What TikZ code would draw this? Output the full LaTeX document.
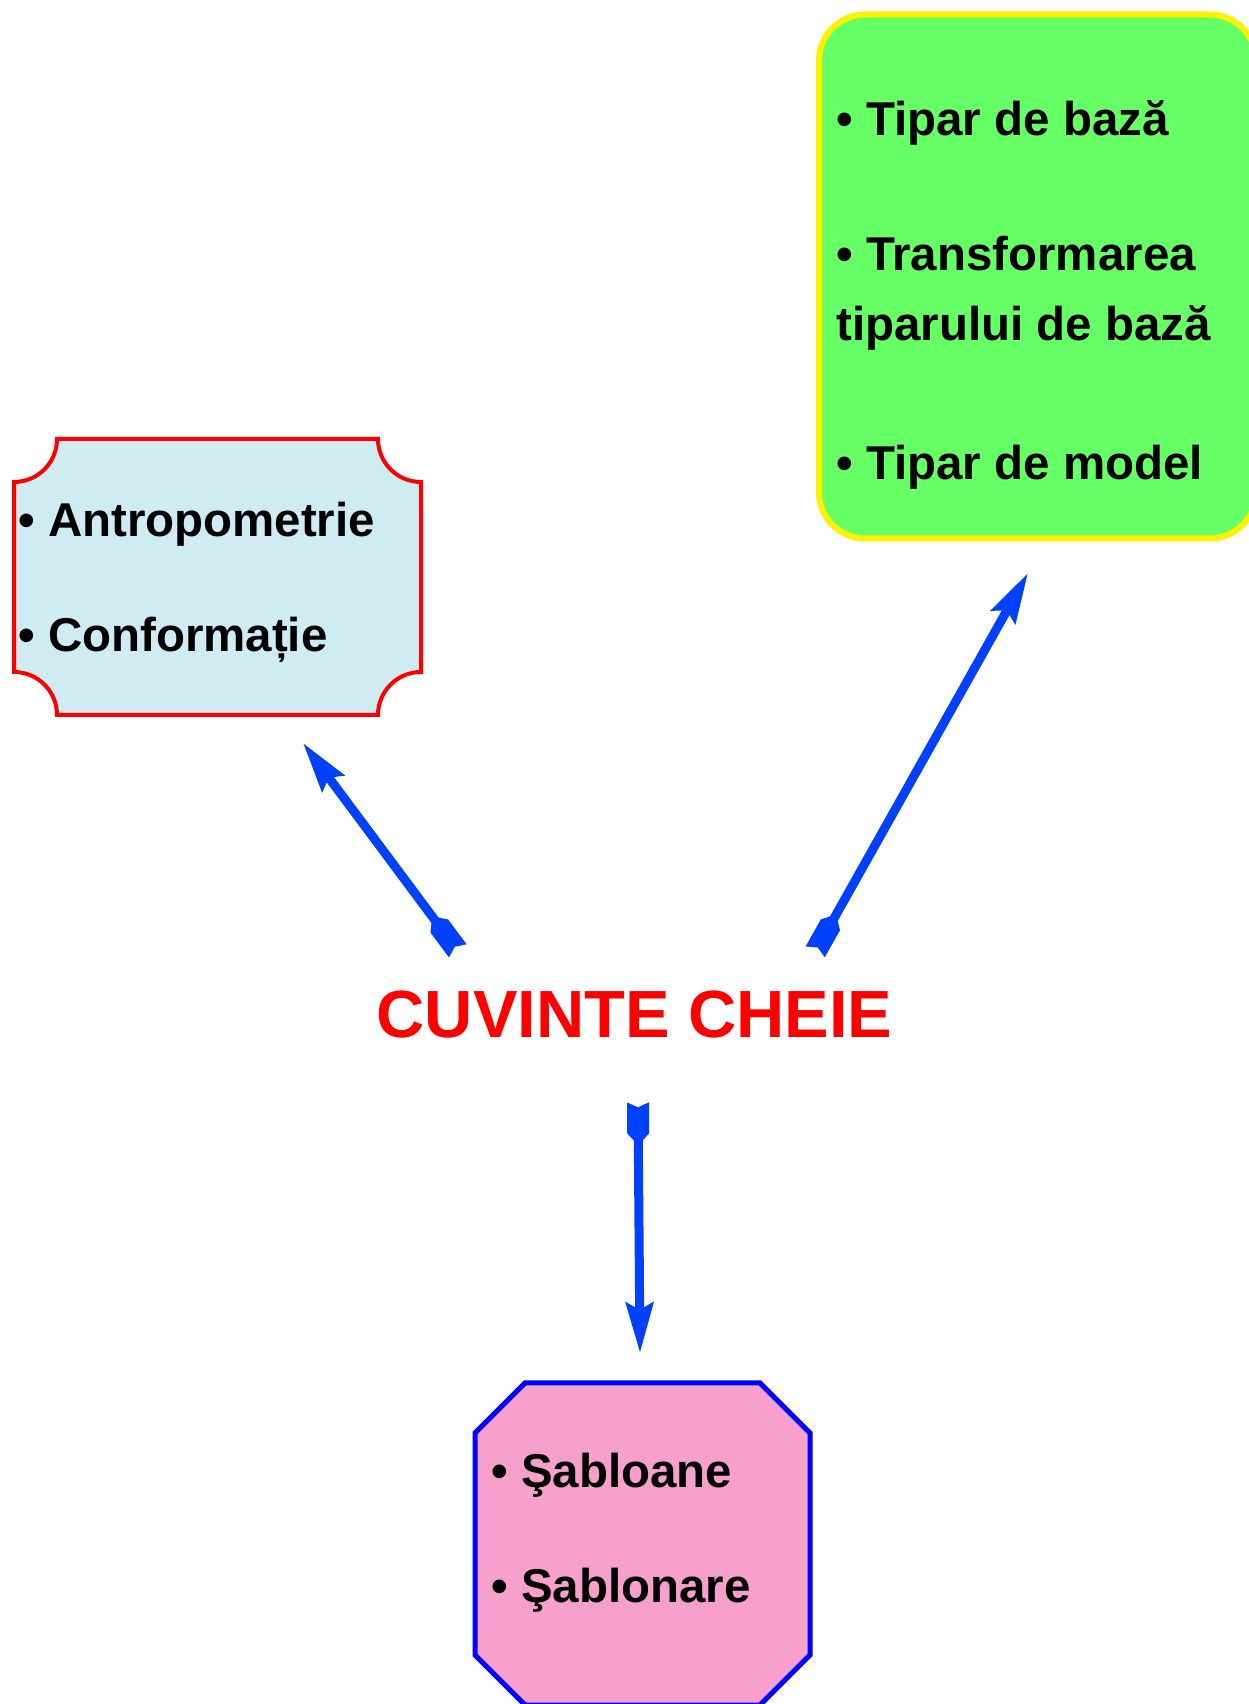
\documentclass[tikz,border=0pt]{standalone}
\usepackage{fontspec}
\setmainfont{Liberation Sans}
\usetikzlibrary{arrows.meta}

\definecolor{arrowblue}{RGB}{0,64,255}
\definecolor{lightcyan}{RGB}{207,236,242}
\definecolor{limegreen}{RGB}{102,255,102}
\definecolor{pinkfill}{RGB}{247,160,204}

% notched tail of the arrows
\pgfdeclarearrow{
  name = Nock,
  parameters = {\the\pgfarrowlength,\the\pgfarrowwidth,\the\pgfarrowinset},
  setup code = {
    \pgfarrowssettipend{0pt}
    \pgfarrowssetbackend{-\pgfarrowlength}
    \pgfarrowssetlineend{-0.6\pgfarrowlength}
    \pgfarrowssavethe\pgfarrowlength
    \pgfarrowssavethe\pgfarrowwidth
    \pgfarrowssavethe\pgfarrowinset
  },
  drawing code = {
    \pgfpathmoveto{\pgfqpoint{0pt}{0.5\pgfarrowwidth}}
    \pgfpathlineto{\pgfqpoint{-\pgfarrowinset}{0pt}}
    \pgfpathlineto{\pgfqpoint{0pt}{-0.5\pgfarrowwidth}}
    \pgfpathlineto{\pgfqpoint{-0.72\pgfarrowlength}{-0.5\pgfarrowwidth}}
    \pgfpathlineto{\pgfqpoint{-\pgfarrowlength}{0pt}}
    \pgfpathlineto{\pgfqpoint{-0.72\pgfarrowlength}{0.5\pgfarrowwidth}}
    \pgfpathclose
    \pgfusepathqfill
  },
  defaults = {length=0.86cm, width=0.44cm, inset=0.1cm}
}

\begin{document}
\begin{tikzpicture}[box/.style={inner sep=0pt,outer sep=0pt},
	item/.style={anchor=base west,inner sep=0pt,font=\bfseries\fontsize{27}{65.4}\selectfont},
	link/.style={draw=arrowblue,line width=0.18cm,{Nock}-{Stealth[length=1cm,width=0.54cm,inset=0.14cm]}}]
		\useasboundingbox (0,0) rectangle (24.98,34.08);
		
		\node[box,minimum width=8.14cm,minimum height=5.52cm] (anthro) at (4.35,22.54) {};
		\filldraw[fill=lightcyan,draw=red,line width=0.08cm]
		([xshift=0.86cm]anthro.north west) -- ([xshift=-0.86cm]anthro.north east)
		arc[start angle=180,end angle=270,radius=0.86cm] -- ([yshift=0.86cm]anthro.south east)
		arc[start angle=90,end angle=180,radius=0.86cm] -- ([xshift=0.86cm]anthro.south west)
		arc[start angle=0,end angle=90,radius=0.86cm] -- ([yshift=-0.86cm]anthro.north west)
		arc[start angle=270,end angle=360,radius=0.86cm] -- cycle;
		
		\node[box,draw=yellow,fill=limegreen,line width=0.12cm,rounded corners=0.92cm,minimum width=8.74cm,minimum height=10.48cm] (tipar) at (20.75,28.55) {};
		
		\node[box,minimum width=6.7cm,minimum height=6.44cm] (sablon) at (12.85,3.2) {};
		\filldraw[fill=pinkfill,draw=blue,line width=0.1cm]
		([xshift=1cm]sablon.north west) -- ([xshift=-1cm]sablon.north east)
		-- ([yshift=-1cm]sablon.north east) -- ([yshift=1cm]sablon.south east)
		-- ([xshift=-1cm]sablon.south east) -- ([xshift=1cm]sablon.south west)
		-- ([yshift=1cm]sablon.south west) -- ([yshift=-1cm]sablon.north west) -- cycle;
		
		\node[item] (anthrotext) at (0.36,23.34) {\begin{tabular}[t]{@{}l@{}}• Antropometrie\\ • Conformație\end{tabular}};
		\node[item,font=\bfseries\fontsize{27}{39.8}\selectfont] (tipartext) at (16.72,31.36) {\begin{tabular}[t]{@{}l@{}}• Tipar de bază\\[1.3cm] • Transformarea\\ tiparului de bază\\[1.38cm] • Tipar de model\end{tabular}};
		\node[item] (sablontext) at (9.82,4.32) {\begin{tabular}[t]{@{}l@{}}• Şabloane\\ • Şablonare\end{tabular}};
		
		\node[anchor=base,inner sep=0pt,text=red,font=\bfseries\fontsize{38}{46}\selectfont,text height=0.956cm,text depth=0pt] (title) at (12.69,13.32) {CUVINTE CHEIE};
		
		\path
		([shift={(1.63,0.78)}]title.north west) edge[link] ([shift={(1.71,-0.56)}]anthro.south)
		([shift={(-1.55,0.76)}]title.north east) edge[link] ([shift={(-0.19,-0.69)}]tipar.south)
		([shift={(0.07,-1.28)}]title.south) edge[link] ([shift={(-0.05,0.6)}]sablon.north)
		;
		\end{tikzpicture}
\end{document}
